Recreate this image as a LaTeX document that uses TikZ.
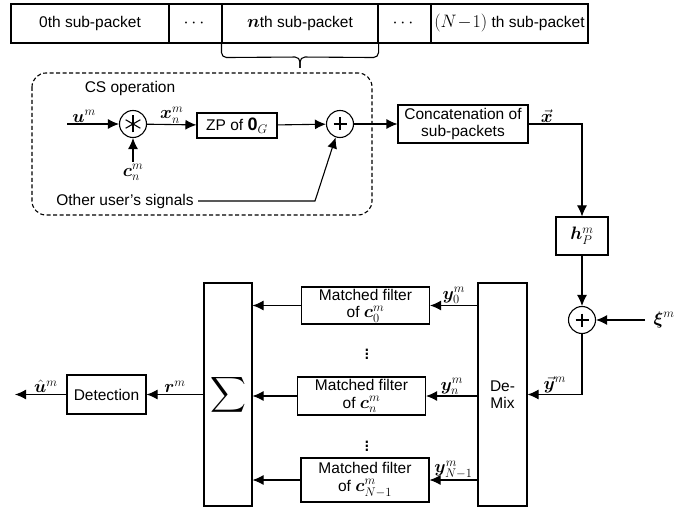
\RequirePackage{fix-cm}
\documentclass[tikz,border=0pt]{standalone}
\usepackage{amsmath,bm}
\usepackage{fontspec}
\setmainfont{Liberation Sans}
\usetikzlibrary{arrows.meta,positioning}
\DeclareMathSizes{15.5}{18}{12.5}{10}

\tikzset{
    blk/.style={draw,line width=1.1pt,inner sep=2pt,align=center},
    cell/.style={draw,line width=1.1pt,inner sep=0pt,minimum height=39pt},
    op/.style={draw,circle,line width=1.1pt,minimum size=27pt,inner sep=0pt},
    sig/.style={line width=1.1pt,-{Latex[length=11pt,width=10pt]}},
    lbl/.style={inner sep=1pt},
}

\begin{document}
\begin{tikzpicture}[x=1pt,y=-1pt,line width=1.1pt,
    every node/.style={font=\fontsize{15.5}{17.5}\selectfont}]
    \useasboundingbox (0,0) rectangle (686,508);
    \def\ybus{394.5}

    % packet row
    \node[cell,minimum width=158pt] (p0) at (90,23.5) {0th sub-packet};
    \node[cell,minimum width=53pt] (p1) at (195.5,23.5) {$\cdots$};
    \node[cell,minimum width=156pt] (pn) at (300,23.5) {$\bm n$th sub-packet};
    \node[cell,minimum width=53pt] (p3) at (404.5,23.5) {$\cdots$};
    \node[cell,minimum width=157pt] (pl) at (509.5,23.5) {$(N\!-\!1)$ th sub-packet};
    \draw[rounded corners=5pt] (pn.south west) -- ++(0,14) -- (300,57) -- (300,68);
    \draw[rounded corners=5pt] (pn.south east) -- ++(0,14) -- (300,57) -- (300,68);

    % CS operation
    \draw[dashed,dash pattern=on 4pt off 2.5pt,rounded corners=14pt] (32,73) rectangle (372,215);
    \node (cs) at (130,88) {CS operation};
    \node[op] (mul) at (133,124) {};
    \foreach \a in {90,30,150}
        \draw (mul.center) ++(\a:8.5) -- ++(\a+180:17);
    \node[blk,minimum width=80pt,minimum height=25pt] (zp) at (237,125.5) {ZP of $\mathbf{0}_G$};
    \node[op] (add) at (340,124) {};
    \draw (add.center) ++(-6.5,0) -- ++(13,0);
    \draw (add.center) ++(0,-6.5) -- ++(0,13);
    \coordinate (uin) at (67,124);
    \coordinate (cin) at (133,162);
    \draw[sig] (uin) -- (mul) node[lbl,pos=0.33,above] {$\bm u^m$};
    \draw[sig] (cin) -- (mul);
    \node[lbl,below=1pt] at (cin) {$\bm c_n^m$};
    \draw[sig] (mul) -- (zp) node[lbl,midway,above] {$\bm x_n^m$};
    \draw[sig] (zp) -- (add);
    \node[inner sep=4pt] (oth) at (125,201) {Other user's signals};
    \coordinate (bend) at (315,201);
    \draw[sig] (oth) -- (bend) -- (add);

    % transmitter and channel
    \node[blk,minimum width=130pt,minimum height=38pt] (cat) at (463,124) {Concatenation of\\sub-packets};
    \draw[sig] (add) -- (cat);
    \node[blk,minimum width=52pt,minimum height=38pt] (hp) at (582,236) {$\bm h_P^m$};
    \draw[sig] (cat.east) -| (hp) node[lbl,pos=0.17,above] {$\vec{\bm x}$};
    \node[op] (add2) at (582,320) {};
    \draw (add2.center) ++(-6.5,0) -- ++(13,0);
    \draw (add2.center) ++(0,-6.5) -- ++(0,13);
    \draw[sig] (hp) -- (add2);
    \coordinate (xi) at (645,320);
    \node at (664,320) {$\bm\xi^m$};
    \draw[sig] (xi) -- (add2);

    % receiver
    \node[blk,minimum width=49pt,minimum height=223pt] (dmx) at (502.5,\ybus) {De-\\Mix};
    \draw[sig] (add2) |- (dmx) node[lbl,pos=0.75,above] {$\vec{\bm y}^m$};
    \node[blk,minimum width=48pt,minimum height=223pt,font=\fontsize{23}{26}\selectfont] (sum) at (228,\ybus) {$\displaystyle\sum$};
    \foreach \i/\xx/\yy/\hh/\sub in {0/365.5/305.5/37/0, n/361.5/396/38/n, l/365/480/44/{N-1}} {
        \node[blk,minimum width=128pt,minimum height=\hh pt,inner sep=0pt] (mf\i) at (\xx,\yy) {Matched filter\\of $\bm c_{\sub}^m$};
        \draw[sig] (dmx.west |- mf\i) -- (mf\i) node[lbl,midway,above] {$\bm y_{\sub}^m$};
        \draw[sig] (mf\i) -- (sum.east |- mf\i);
    }
    \node[font=\fontsize{22}{24}\selectfont,inner sep=0pt] (dots1) at (367,351) {$\vdots$};
    \node[font=\fontsize{22}{24}\selectfont,inner sep=0pt] (dots2) at (367,443) {$\vdots$};
    \node[blk,minimum width=79pt,minimum height=39pt] (det) at (106.5,\ybus) {Detection};
    \draw[sig] (sum) -- (det) node[lbl,midway,above] {$\bm r^m$};
    \coordinate (uout) at (15,\ybus);
    \draw[sig] (det) -- (uout) node[lbl,pos=0.4,above] {$\hat{\bm u}^m$};
\end{tikzpicture}
\end{document}
